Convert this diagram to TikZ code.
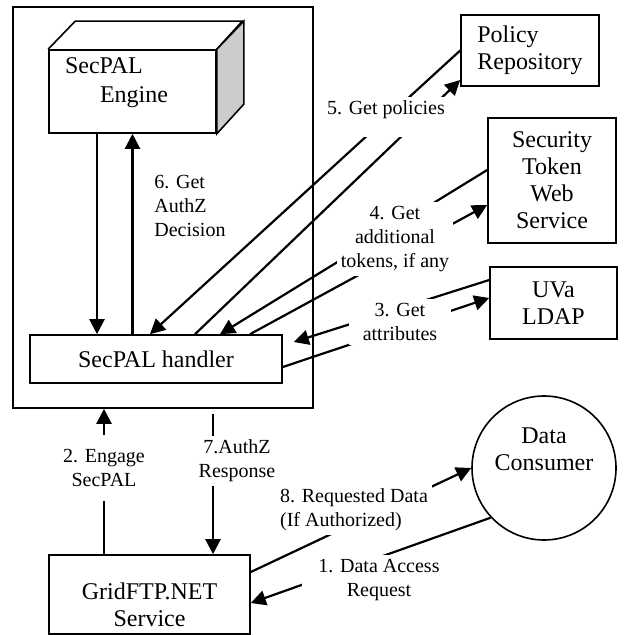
\documentclass[tikz,border=0pt]{standalone}
\usepackage{fontspec}
\setmainfont{Liberation Serif}
\usetikzlibrary{arrows.meta}

\begin{document}
\begin{tikzpicture}
[x=0.5pt,y=-0.5pt,
  boxDecorate/.style={shape=rectangle,draw,line width=0.8pt,inner sep=2pt,align=center,font=\fontsize{12}{13.5}\selectfont},
  bubbleDecorate/.style={shape=circle,draw,line width=0.8pt,minimum size=72pt,inner sep=0pt},
  nameDecorate/.style={align=center,font=\fontsize{12}{13.5}\selectfont},
  labelDecorate/.style={fill=white,inner xsep=2pt,inner ysep=2pt,align=center,font=\fontsize{10}{12}\selectfont},
  flowDecorate/.style={-{Triangle[length=7.5pt,width=7.5pt]},line width=1.1pt}]
\useasboundingbox (0,0) rectangle (624,635);
%% boxes
\node[boxDecorate,minimum width=150pt,minimum height=200.5pt] (shell) at (163,207.5) {};
\node[boxDecorate,minimum width=83.5pt,minimum height=41.5pt,
  label={[nameDecorate,align=left,font=\fontsize{12}{14.5}\selectfont,xshift=-8pt,yshift=4.5pt]center:SecPAL\\\hspace*{17.5pt}Engine}]
  (engine) at (132.5,91.5) {};
\draw[line width=0.8pt] (engine.north west) -- ++(27,-28) -- ++(167,0) -- (engine.north east);
\filldraw[fill=gray!40,line width=0.8pt] (engine.north east) -- ++(27,-28) -- ++(0,83) -- (engine.south east) -- cycle;
\node[boxDecorate,minimum width=126pt,minimum height=24pt] (handler) at (156,359) {SecPAL handler};
\node[boxDecorate,align=left,minimum width=69pt,minimum height=35.5pt] (policy) at (530,50.5) {Policy\\Repository};
\node[boxDecorate,minimum width=64pt,minimum height=62.5pt] (token) at (552,180.5) {Security\\Token\\Web\\Service};
\node[boxDecorate,minimum width=63.5pt,minimum height=36pt] (ldap) at (553.5,303) {UVa\\LDAP};
\node[boxDecorate,minimum width=100.5pt,minimum height=39.5pt,
  label={[nameDecorate,yshift=-5pt]center:GridFTP.NET\\Service}]
  (gridftp) at (149.5,594.5) {};
\node[bubbleDecorate,label={[nameDecorate,yshift=9.25pt]center:Data\\Consumer}] (consumer) at (544,468) {};
%% attachment points
\coordinate (engOut) at ([xshift=-17.75pt]engine.south);
\coordinate (handIn) at (engOut |- handler.north);
\coordinate (engIn) at (engine.south);
\coordinate (handUp) at (engine.south |- handler.north);
\coordinate (polOut) at (policy.west);
\coordinate (handPol) at ([xshift=-3pt]handler.north);
\coordinate (handPolOut) at ([xshift=19.5pt]handler.north);
\coordinate (polIn) at ([yshift=-14.75pt]policy.west);
\coordinate (tokOut) at ([yshift=5.25pt]token.west);
\coordinate (handTok) at ([xshift=32pt]handler.north);
\coordinate (handTokOut) at ([xshift=47pt]handler.north);
\coordinate (tokIn) at ([yshift=-12.25pt]token.west);
\coordinate (ldapOut) at ([yshift=11.5pt]ldap.west);
\coordinate (handLdap) at ([xshift=5.5pt,yshift=8.5pt]handler.east);
\coordinate (handLdapOut) at ([yshift=-4pt]handler.east);
\coordinate (ldapIn) at ([yshift=2.5pt]ldap.west);
\coordinate (ftpUp) at ([xshift=-22.75pt]gridftp.north);
\coordinate (shellIn) at (ftpUp |- shell.south);
\coordinate (shellOut) at ([xshift=25pt,yshift=-2.5pt]shell.south);
\coordinate (ftpIn) at (shellOut |- gridftp.north);
\coordinate (ftpOut) at ([yshift=11.25pt]gridftp.east);
\coordinate (conIn) at (consumer.west);
\coordinate (conOut) at (consumer.223);
\coordinate (ftpBack) at ([yshift=-4.25pt]gridftp.east);
%% messages
\path
\foreach \startnode/\endnode in {
  engOut/handIn, handUp/engIn, polOut/handPol, handPolOut/polIn,
  tokOut/handTok, handTokOut/tokIn, ldapOut/handLdap, handLdapOut/ldapIn,
  ftpUp/shellIn, shellOut/ftpIn, ftpOut/conIn, conOut/ftpBack}
{
  (\startnode) edge[flowDecorate] (\endnode)
};
%% message labels
\node[labelDecorate,anchor=base,text depth=9pt] (getPolicies) at (386,115) {5. Get policies};
\node[labelDecorate] (getTokens) at (395,239) {4. Get\\additional\\tokens, if any};
\node[labelDecorate,inner xsep=7pt] (getAttributes) at (400,322) {3. Get\\attributes};
\node[labelDecorate,align=left,anchor=west] (getDecision) at (150,206) {6. Get\\AuthZ\\Decision};
\node[labelDecorate,inner ysep=7pt] (engage) at (104,468) {2. Engage\\SecPAL};
\node[labelDecorate] (response) at (237,461) {7.AuthZ\\Response};
\node[labelDecorate,align=left] (requested) at (354,510) {8. Requested Data\\(If Authorized)};
\node[labelDecorate,inner xsep=8pt] (accessRequest) at (379,580) {1. Data Access\\Request};
\end{tikzpicture}
\end{document}
